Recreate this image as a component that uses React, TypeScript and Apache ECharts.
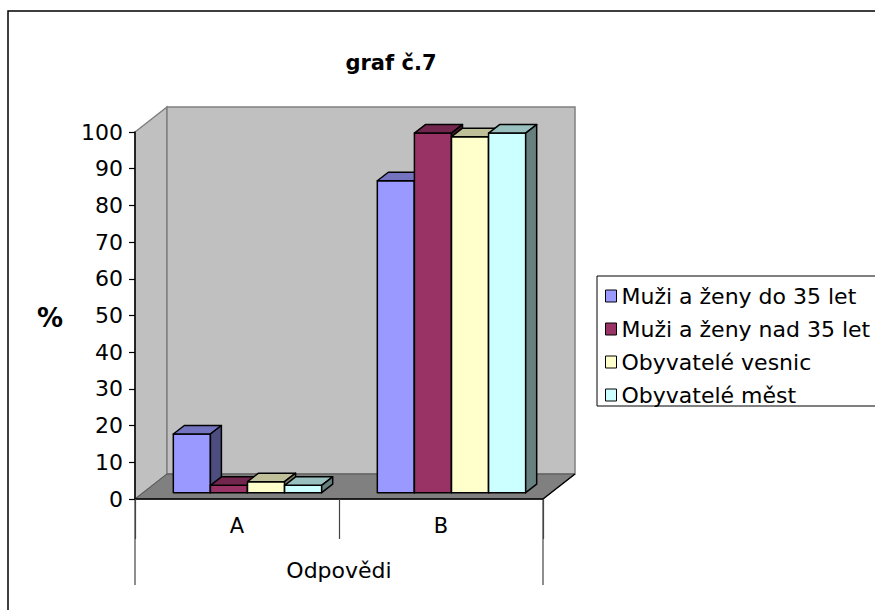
import React, { useEffect, useRef } from "react";
import * as echarts from "echarts";

const FONT = '"DejaVu Sans", "Liberation Sans", Arial, sans-serif';

const categories = ["A", "B"];
const seriesNames = [
  "Muži a ženy do 35 let",
  "Muži a ženy nad 35 let",
  "Obyvatelé vesnic",
  "Obyvatelé měst",
];
const muziDo35 = [16, 85];
const muziNad35 = [2, 98];
const obyvateleVesnic = [3, 97];
const obyvateleMest = [2, 98];
const seriesValues = [muziDo35, muziNad35, obyvateleVesnic, obyvateleMest];
const seriesColors = ["#9999FF", "#993366", "#FFFFCC", "#CCFFFF"];

// oblique projection of the 3D box
const DEPTH_X = 32;
const DEPTH_Y = -25;
const BAR_OFF_X = 10.5;
const BAR_OFF_Y = -6.3;
const BAR_DEPTH_X = 11;
const BAR_DEPTH_Y = -8.5;

function shade(hex: string, f: number) {
  const n = parseInt(hex.slice(1), 16);
  const r = Math.round(((n >> 16) & 255) * f);
  const g = Math.round(((n >> 8) & 255) * f);
  const b = Math.round((n & 255) * f);
  return `rgb(${r},${g},${b})`;
}

function makeBarRender(sIdx: number, color: string) {
  return (params: any, api: any) => {
    const ci = api.value(0);
    const v = api.value(1);
    const base = api.coord([ci, 0]);
    const top = api.coord([ci, v]);
    const cw = api.size([1, 0])[0];
    const bw = cw / 5.5;
    const left = base[0] - 2 * bw + sIdx * bw + BAR_OFF_X;
    const right = left + bw;
    const yb = base[1] + BAR_OFF_Y;
    const yt = top[1] + BAR_OFF_Y;
    const stroke = { stroke: "#000", lineWidth: 1.5, lineJoin: "round" };
    return {
      type: "group",
      children: [
        {
          type: "polygon",
          shape: { points: [[left, yt], [right, yt], [right, yb], [left, yb]] },
          style: { fill: color, ...stroke },
        },
        {
          type: "polygon",
          shape: {
            points: [
              [left, yt],
              [left + BAR_DEPTH_X, yt + BAR_DEPTH_Y],
              [right + BAR_DEPTH_X, yt + BAR_DEPTH_Y],
              [right, yt],
            ],
          },
          style: { fill: shade(color, 0.75), ...stroke },
        },
        {
          type: "polygon",
          shape: {
            points: [
              [right, yt],
              [right + BAR_DEPTH_X, yt + BAR_DEPTH_Y],
              [right + BAR_DEPTH_X, yb + BAR_DEPTH_Y],
              [right, yb],
            ],
          },
          style: { fill: shade(color, 0.5), ...stroke },
        },
      ],
    };
  };
}

function renderWalls(params: any, api: any) {
  const cs = params.coordSys;
  const x0 = cs.x;
  const y0 = cs.y;
  const w = cs.width;
  const h = cs.height;
  const yB = y0 + h;
  return {
    type: "group",
    children: [
      {
        type: "polygon",
        shape: {
          points: [
            [x0, y0],
            [x0 + DEPTH_X, y0 + DEPTH_Y],
            [x0 + DEPTH_X, yB + DEPTH_Y],
            [x0, yB],
          ],
        },
        style: { fill: "#C0C0C0", stroke: "#808080", lineWidth: 1.5 },
      },
      {
        type: "polygon",
        shape: {
          points: [
            [x0 + DEPTH_X, y0 + DEPTH_Y],
            [x0 + w + DEPTH_X, y0 + DEPTH_Y],
            [x0 + w + DEPTH_X, yB + DEPTH_Y],
            [x0 + DEPTH_X, yB + DEPTH_Y],
          ],
        },
        style: { fill: "#C0C0C0", stroke: "#808080", lineWidth: 1.5 },
      },
      {
        type: "polygon",
        shape: {
          points: [
            [x0, yB],
            [x0 + DEPTH_X, yB + DEPTH_Y],
            [x0 + w + DEPTH_X, yB + DEPTH_Y],
            [x0 + w, yB],
          ],
        },
        style: { fill: "#808080", stroke: "#555", lineWidth: 1 },
      },
      {
        type: "line",
        shape: { x1: x0 + w, y1: yB, x2: x0 + w + DEPTH_X, y2: yB + DEPTH_Y },
        style: { stroke: "#000", lineWidth: 1.5 },
      },
      {
        type: "line",
        shape: { x1: x0, y1: yB, x2: x0, y2: yB + 86 },
        style: { stroke: "#444", lineWidth: 1.2 },
      },
      {
        type: "line",
        shape: { x1: x0 + w, y1: yB, x2: x0 + w, y2: yB + 86 },
        style: { stroke: "#444", lineWidth: 1.2 },
      },
    ],
  };
}

export default function App() {
  const ref = useRef<HTMLDivElement>(null);
  useEffect(() => {
    if (!ref.current) return;
    const chart = echarts.init(ref.current, undefined, { renderer: "svg" });
    const barSeries = seriesNames.map((name, i) => ({
      type: "custom",
      name,
      z: 3,
      coordinateSystem: "cartesian2d",
      itemStyle: { color: seriesColors[i], borderColor: "#000", borderWidth: 1 },
      renderItem: makeBarRender(i, seriesColors[i]),
      data: seriesValues[i].map((v, ci) => [ci, v]),
    }));
    chart.setOption({
      animation: false,
      backgroundColor: "#fff",
      textStyle: { fontFamily: FONT },
      grid: { left: 135, top: 132, width: 408, height: 367, containLabel: false },
      graphic: [
        {
          type: "rect",
          shape: { x: 8, y: 11, width: 950, height: 700 },
          style: { fill: "none", stroke: "#000", lineWidth: 1.5 },
          silent: true,
        },
        {
          type: "text",
          x: 391,
          y: 63,
          style: {
            text: "graf č.7",
            textAlign: "center",
            textVerticalAlign: "middle",
            align: "center",
            verticalAlign: "middle",
            fill: "#000",
            font: `bold 21px ${FONT}`,
          },
        },
        {
          type: "text",
          x: 50,
          y: 318,
          style: {
            text: "%",
            textAlign: "center",
            textVerticalAlign: "middle",
            align: "center",
            verticalAlign: "middle",
            fill: "#000",
            font: `bold 26px ${FONT}`,
          },
        },
      ],
      legend: {
        data: seriesNames,
        orient: "vertical",
        left: 597,
        top: 276,
        icon: "rect",
        itemWidth: 11,
        itemHeight: 12,
        itemGap: 11,
        padding: [9, 40, 0, 8],
        borderColor: "#000",
        borderWidth: 1,
        backgroundColor: "#fff",
        itemStyle: { borderColor: "#000", borderWidth: 1 },
        textStyle: { fontSize: 22, color: "#000", fontFamily: FONT },
        selectedMode: false,
      },
      xAxis: {
        type: "category",
        data: categories,
        z: 5,
        boundaryGap: true,
        axisLine: { lineStyle: { color: "#000", width: 1.5 } },
        axisTick: { show: true, length: 40, lineStyle: { color: "#444", width: 1.2 } },
        axisLabel: { fontSize: 21, color: "#000", margin: 16, fontFamily: FONT },
        name: "Odpovědi",
        nameLocation: "middle",
        nameGap: 60,
        nameTextStyle: { fontSize: 22, color: "#000", fontFamily: FONT },
        splitLine: { show: false },
      },
      yAxis: {
        type: "value",
        min: 0,
        max: 100,
        interval: 10,
        z: 5,
        axisLine: { show: true, lineStyle: { color: "#000", width: 1.5 } },
        axisTick: { show: true, length: 6, lineStyle: { color: "#000", width: 1.2 } },
        axisLabel: { fontSize: 22, color: "#000", margin: 12, fontFamily: FONT },
        splitLine: { show: false },
      },
      series: [
        {
          type: "custom",
          name: "walls",
          z: 1,
          silent: true,
          coordinateSystem: "cartesian2d",
          renderItem: renderWalls,
          data: [[0, 0]],
        },
        ...barSeries,
      ],
    });
    return () => chart.dispose();
  }, []);
  return (
    <div
      ref={ref}
      style={{ position: "absolute", left: 0, top: 0, width: 875, height: 610 }}
    />
  );
}
